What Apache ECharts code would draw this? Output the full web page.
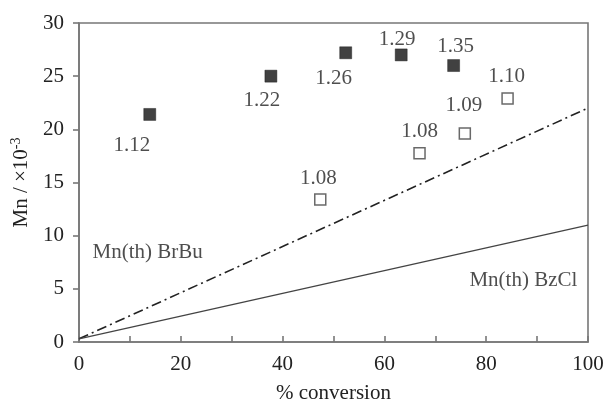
<!DOCTYPE html>
<html>
<head>
<meta charset="utf-8">
<script src="https://cdn.jsdelivr.net/npm/echarts@6/dist/echarts.min.js"></script>
<style>html,body{margin:0;padding:0;background:#fff}#c{width:605px;height:401px}</style>
</head>
<body>
<div id="c"></div>
<script>
// Data
var filledX = [13.9, 37.7, 52.4, 63.3, 73.6];
var filledY = [21.4, 25.0, 27.2, 27.0, 26.0];
var filledPDI = ['1.12', '1.22', '1.26', '1.29', '1.35'];
var openX = [47.4, 66.9, 75.8, 84.2];
var openY = [13.4, 17.75, 19.6, 22.9];
var openPDI = ['1.08', '1.08', '1.09', '1.10'];
var lineBrBu = [[0, 0.3], [100, 22]];
var lineBzCl = [[0, 0.3], [100, 11]];
var annotations = [['Mn(th) BrBu', 13.5, 8.4], ['Mn(th) BzCl', 87.3, 5.8]];
var xTicks = [0, 20, 40, 60, 80, 100];
var yTicks = [0, 5, 10, 15, 20, 25, 30];

var FONT = 'Liberation Serif';
var TXT = '#222';
var AX = '#777';

var filledOffsets = [[-18, 31], [-9, 24], [-12, 26], [-4, -15], [2, -19]];
var openOffsets = [[-2, -21], [0, -22], [-1, -28], [-1, -22]];

function pts(xs, ys, labels, offs) {
  return xs.map(function (x, i) {
    return {
      value: [x, ys[i]],
      label: { show: true, formatter: labels[i], position: 'inside', offset: offs[i] }
    };
  });
}

var chart = echarts.init(document.getElementById('c'), null, { renderer: 'canvas' });
chart.setOption({
  animation: false,
  backgroundColor: '#fff',
  grid: { left: 79, right: 17, top: 23, bottom: 59, containLabel: false, outerBoundsMode: 'none', show: true, borderColor: AX, borderWidth: 1.6, backgroundColor: 'transparent' },
  xAxis: {
    type: 'value', min: xTicks[0], max: xTicks[xTicks.length - 1], interval: 20,
    name: '% conversion', nameLocation: 'middle', nameGap: 41,
    nameTextStyle: { fontFamily: FONT, fontSize: 21, color: TXT },
    axisLine: { show: true, lineStyle: { color: AX, width: 1.6 } },
    axisTick: { show: true, inside: true, length: 6, lineStyle: { color: AX, width: 1.6 } },
    minorTick: { show: true, splitNumber: 2, length: 6, lineStyle: { color: AX, width: 1.6 } },
    axisLabel: { fontFamily: FONT, fontSize: 21, color: TXT, margin: 12 },
    splitLine: { show: false }
  },
  yAxis: {
    type: 'value', min: yTicks[0], max: yTicks[yTicks.length - 1], interval: 5,
    name: '{a|Mn / ×10}{s|-3}', nameLocation: 'middle', nameGap: 45, nameRotate: 90,
    nameTextStyle: {
      fontFamily: FONT, fontSize: 21, color: TXT,
      rich: { a: { fontFamily: FONT, fontSize: 21, color: TXT }, s: { fontFamily: FONT, fontSize: 14, color: TXT, verticalAlign: 'top', padding: [0, 0, 10, 0] } }
    },
    axisLine: { show: true, lineStyle: { color: AX, width: 1.6 } },
    axisTick: { show: true, inside: false, length: 6, lineStyle: { color: AX, width: 1.6 } },
    axisLabel: { fontFamily: FONT, fontSize: 21, color: TXT, margin: 15 },
    splitLine: { show: false }
  },
  series: [
    {
      type: 'line', data: lineBrBu, symbol: 'none', silent: true,
      lineStyle: { color: '#222', width: 1.6, type: [10, 4, 2, 4] }
    },
    {
      type: 'line', data: lineBzCl, symbol: 'none', silent: true,
      lineStyle: { color: '#444', width: 1.3, type: 'solid' }
    },
    {
      type: 'scatter', symbol: 'rect', symbolSize: 12,
      itemStyle: { color: '#111', borderColor: '#111', borderWidth: 0.5 },
      label: { fontFamily: FONT, fontSize: 21, color: TXT },
      data: pts(filledX, filledY, filledPDI, filledOffsets)
    },
    {
      type: 'scatter', symbol: 'rect', symbolSize: 11,
      itemStyle: { color: '#fff', borderColor: '#444', borderWidth: 1.5 },
      label: { fontFamily: FONT, fontSize: 21, color: TXT },
      data: pts(openX, openY, openPDI, openOffsets)
    },
    {
      type: 'scatter', symbolSize: 0, silent: true,
      label: { show: true, position: 'inside', fontFamily: FONT, fontSize: 21, color: TXT, formatter: function (p) { return p.data[2]; } },
      data: annotations.map(function (a) { return [a[1], a[2], a[0]]; })
    }
  ]
});
</script>
</body>
</html>
